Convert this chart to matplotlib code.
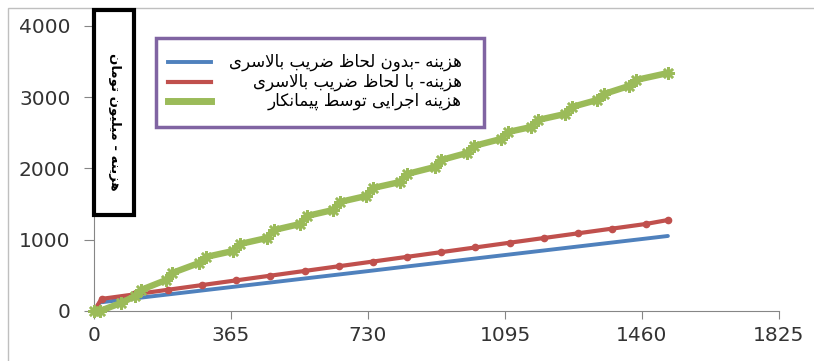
import matplotlib
matplotlib.use("Agg")
import matplotlib.pyplot as plt
from matplotlib.patches import Rectangle
from matplotlib.lines import Line2D

# days and cost (million toman) per series
blue_days = [0, 15, 106, 197, 288, 379, 470, 561, 652, 743, 834, 925, 1016, 1107, 1198, 1289, 1380, 1471, 1529]
blue_cost = [0, 120, 176, 232, 288, 344, 400, 456, 512, 568, 625, 681, 737, 793, 849, 905, 961, 1017, 1053]

red_days = [0, 20, 106, 197, 288, 379, 470, 561, 652, 743, 834, 925, 1016, 1107, 1198, 1289, 1380, 1471, 1529]
red_cost = [0, 170, 232, 298, 364, 430, 496, 562, 628, 694, 760, 826, 892, 958, 1024, 1090, 1156, 1222, 1277]

green_days = [0, 15, 72, 109, 125, 192, 208, 280, 298, 370, 389, 461, 480, 549, 567, 637, 655,
              725, 743, 815, 834, 908, 925, 994, 1012, 1084, 1103, 1164, 1183, 1255, 1273,
              1340, 1359, 1425, 1444, 1529]
green_cost = [0, 0, 112, 210, 295, 435, 533, 674, 758, 842, 940, 1025, 1137, 1221, 1333, 1418, 1530,
              1614, 1726, 1810, 1923, 2021, 2119, 2218, 2316, 2414, 2512, 2582, 2681, 2765, 2863,
              2961, 3046, 3158, 3242, 3340]

labels = ["هزینه -بدون لحاظ ضریب بالاسری",
          "هزینه- با لحاظ ضریب بالاسری",
          "هزینه اجرایی توسط پیمانکار"]
ylabel = "هزینه - میلیون تومان"
xticks = [0, 365, 730, 1095, 1460, 1825]
yticks = [0, 1000, 2000, 3000, 4000]

BLUE, RED, GREEN = "#4F81BD", "#C0504D", "#9BBB59"

# isolated, final, initial, medial presentation forms
FORMS = {
    "ا": ("\uFE8D", "\uFE8E", None, None),
    "ب": ("\uFE8F", "\uFE90", "\uFE91", "\uFE92"),
    "پ": ("\uFB56", "\uFB57", "\uFB58", "\uFB59"),
    "ت": ("\uFE95", "\uFE96", "\uFE97", "\uFE98"),
    "ج": ("\uFE9D", "\uFE9E", "\uFE9F", "\uFEA0"),
    "ح": ("\uFEA1", "\uFEA2", "\uFEA3", "\uFEA4"),
    "د": ("\uFEA9", "\uFEAA", None, None),
    "ر": ("\uFEAD", "\uFEAE", None, None),
    "ز": ("\uFEAF", "\uFEB0", None, None),
    "س": ("\uFEB1", "\uFEB2", "\uFEB3", "\uFEB4"),
    "ض": ("\uFEBD", "\uFEBE", "\uFEBF", "\uFEC0"),
    "ط": ("\uFEC1", "\uFEC2", "\uFEC3", "\uFEC4"),
    "ظ": ("\uFEC5", "\uFEC6", "\uFEC7", "\uFEC8"),
    "ک": ("\uFB8E", "\uFB8F", "\uFB90", "\uFB91"),
    "ل": ("\uFEDD", "\uFEDE", "\uFEDF", "\uFEE0"),
    "م": ("\uFEE1", "\uFEE2", "\uFEE3", "\uFEE4"),
    "ن": ("\uFEE5", "\uFEE6", "\uFEE7", "\uFEE8"),
    "ه": ("\uFEE9", "\uFEEA", "\uFEEB", "\uFEEC"),
    "و": ("\uFEED", "\uFEEE", None, None),
    "ی": ("\uFBFC", "\uFBFD", "\uFBFE", "\uFBFF"),
}


def shape(text):
    """join persian letters into presentation forms and lay them out right to left"""
    out = []
    prev_joins = False
    i = 0
    while i < len(text):
        c = text[i]
        nxt = text[i + 1] if i + 1 < len(text) else ""
        if c == "ل" and nxt == "ا":
            out.append("\uFEFC" if prev_joins else "\uFEFB")
            prev_joins = False
            i += 2
            continue
        if c not in FORMS:
            out.append(c)
            prev_joins = False
            i += 1
            continue
        iso, fin, ini, med = FORMS[c]
        next_joins = ini is not None and nxt in FORMS
        if prev_joins and next_joins:
            out.append(med)
        elif prev_joins:
            out.append(fin)
        elif next_joins:
            out.append(ini)
        else:
            out.append(iso)
        prev_joins = ini is not None
        i += 1
    return "".join(reversed(out))


W, H = 814, 361
fig = plt.figure(figsize=(W / 100, H / 100), dpi=100)


def px(x, y):
    return x / W, 1 - y / H


# outer chart border
fig.patches.append(Rectangle(px(8, 400), 900 / W, 392 / H, transform=fig.transFigure,
                             fill=False, edgecolor="#bfbfbf", lw=1))

ax = fig.add_axes([94 / W, 1 - 311 / H, (779 - 94) / W, (311 - 26) / H])
ax.plot(blue_days, blue_cost, color=BLUE, lw=2.8, solid_capstyle="round", zorder=3)
ax.plot(red_days, red_cost, color=RED, lw=3, marker="o", ms=4.5, zorder=4)
ax.plot(green_days, green_cost, color=GREEN, lw=4.6, marker=(8, 2, 0), ms=9, mew=1.8,
        mec=GREEN, zorder=5, clip_on=False)

ax.set_xlim(0, 1825)
ax.set_ylim(0, 4000)
ax.set_xticks(xticks)
ax.set_yticks(yticks)
for s in ["top", "right"]:
    ax.spines[s].set_visible(False)
for s in ["left", "bottom"]:
    ax.spines[s].set_color("#868686")
ax.tick_params(axis="y", direction="out", length=7, color="#868686", pad=10,
               labelsize=14.5, labelcolor="#333333")
ax.tick_params(axis="x", direction="out", length=6, color="#868686", pad=5,
               labelsize=14.5, labelcolor="#333333")

# y label in a black box
fig.patches.append(Rectangle(px(94, 215), 40 / W, 205 / H, transform=fig.transFigure,
                             fill=True, facecolor="white", edgecolor="black", lw=3, zorder=10))
fig.text(*px(114, 122), shape(ylabel), rotation=270, ha="center", va="center",
         fontsize=9.5, fontweight="bold", zorder=11)

# legend box
fig.patches.append(Rectangle(px(156, 127), (484 - 156) / W, (127 - 38) / H,
                             transform=fig.transFigure, facecolor="white",
                             edgecolor="#8064A2", lw=2.5, zorder=10))
rows = [(62, BLUE, 2.8), (82, RED, 3), (101, GREEN, 5)]
for (y, col, lw), lab in zip(rows, labels):
    fig.lines.append(Line2D([168 / W, 211 / W], [1 - y / H] * 2, transform=fig.transFigure,
                            color=col, lw=lw, zorder=11))
    fig.text(*px(462, y), shape(lab), ha="right", va="center", fontsize=12, zorder=11)

fig.savefig("out.png", dpi=100)
